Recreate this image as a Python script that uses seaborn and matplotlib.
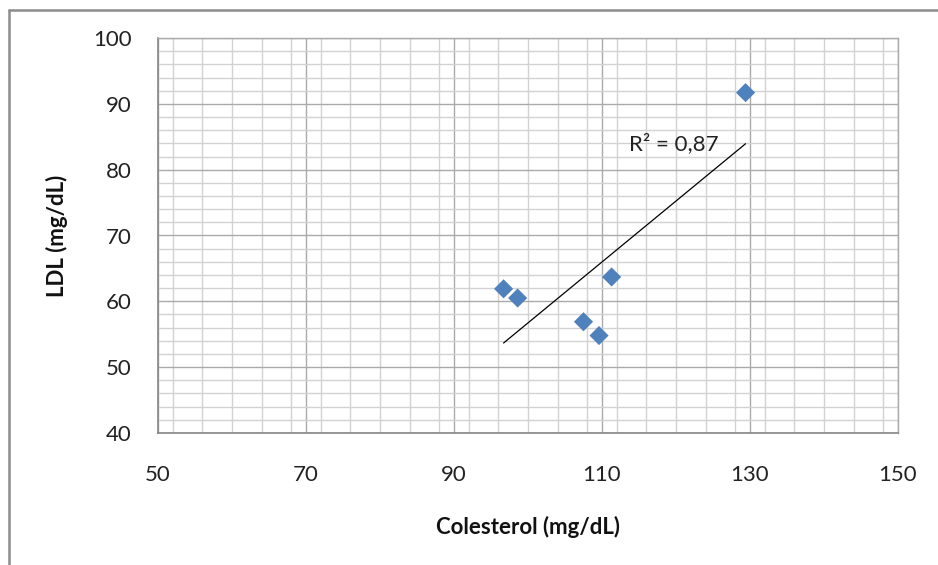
import numpy as np
import pandas as pd
import matplotlib
matplotlib.use("Agg")
import matplotlib.pyplot as plt
from matplotlib.lines import Line2D
from matplotlib.ticker import MultipleLocator
import seaborn as sns

# Data
colesterol = [96.7, 98.6, 107.5, 109.6, 111.3, 129.4]
ldl = [61.9, 60.5, 56.9, 54.8, 63.7, 91.7]
x_ticks = [50, 70, 90, 110, 130, 150]
y_ticks = [40, 50, 60, 70, 80, 90, 100]
r2_label = "R² = 0,87"
x_label = "Colesterol (mg/dL)"
y_label = "LDL (mg/dL)"

sns.set_style("white")
plt.rcParams['font.family'] = ['Lato', 'DejaVu Sans']

df = pd.DataFrame({"x": colesterol, "y": ldl})

fig = plt.figure(figsize=(9.38, 5.65), dpi=100)
ax = fig.add_axes([158/938, 1 - 433/565, (898-158)/938, (433-38)/565])

# grid
ax.xaxis.set_minor_locator(MultipleLocator(4))
ax.yaxis.set_minor_locator(MultipleLocator(2))
ax.grid(which='minor', color='#d2d2d2', linewidth=1.0)
ax.grid(which='major', color='#aaaaaa', linewidth=1.0)
ax.set_axisbelow(True)

# linear trendline fitted from the data
coef = np.polyfit(df["x"], df["y"], 1)
xs = np.array([df["x"].min(), df["x"].max()])
trend = pd.DataFrame({"x": xs, "y": np.polyval(coef, xs)})
sns.lineplot(data=trend, x="x", y="y", ax=ax, color='black', linewidth=0.9, zorder=3)

sns.scatterplot(data=df, x="x", y="y", ax=ax, marker='D', s=95,
                color='#4F81BD', edgecolor='none', zorder=4)

ax.text(113.6, 84.0, r2_label, fontsize=16, va='center', ha='left', color='#222222', zorder=5)

ax.set_xlim(50, 150)
ax.set_ylim(40, 100)
ax.set_xticks(x_ticks)
ax.set_yticks(y_ticks)
ax.tick_params(axis='both', which='major', direction='out', length=7, width=1,
               color='#868686', labelsize=16, labelcolor='#222222')
ax.tick_params(axis='x', pad=16)
ax.tick_params(axis='y', pad=12)
ax.tick_params(which='minor', length=0)

for s in ['left', 'bottom']:
    ax.spines[s].set_color('#868686')
    ax.spines[s].set_linewidth(1.2)
for s in ['top', 'right']:
    ax.spines[s].set_color('#aaaaaa')
    ax.spines[s].set_linewidth(1.0)

ax.set_xlabel(x_label, fontsize=16, fontweight='bold', labelpad=22, color='#111111')
ax.set_ylabel(y_label, fontsize=16, fontweight='bold', labelpad=18, color='#111111')

# outer chart border (left and top visible)
fig.add_artist(Line2D([9/938, 9/938], [0, 1 - 10/565], transform=fig.transFigure,
                      color='#8c8c8c', linewidth=1.8))
fig.add_artist(Line2D([9/938, 1], [1 - 10/565, 1 - 10/565], transform=fig.transFigure,
                      color='#8c8c8c', linewidth=1.8))

fig.savefig("out.png", dpi=100)
